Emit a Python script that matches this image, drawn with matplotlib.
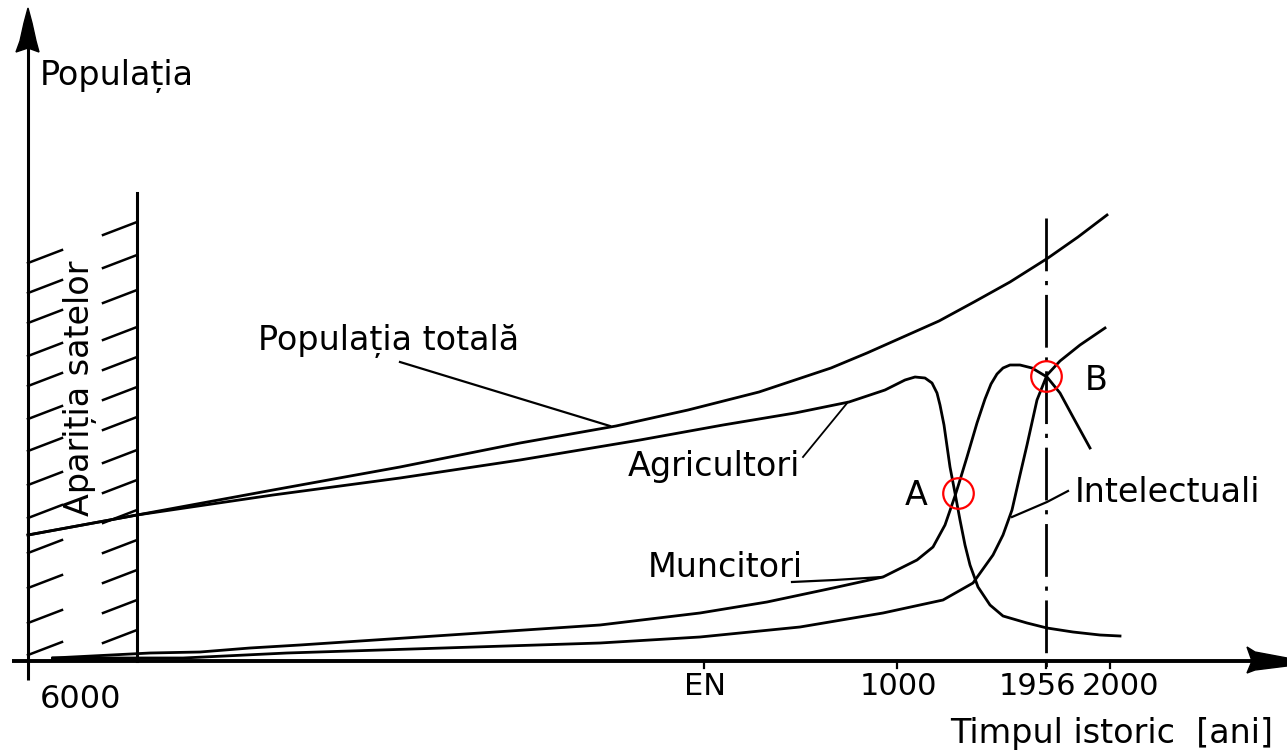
import matplotlib
matplotlib.use("Agg")
import matplotlib.pyplot as plt
from matplotlib.patches import Polygon

plt.rcParams['font.family'] = ['DejaVu Sans']
plt.rcParams['lines.scale_dashes'] = False

# schematic values: x = historic time position, y = population level (relative units)
total_x = [0, 109, 245, 372, 492, 588, 660, 731, 803, 839, 875, 911, 946, 982,
           1020, 1050, 1079]
total_y = [126, 146, 171, 194, 218, 235, 251, 269, 293, 308, 324, 340, 359, 379,
           403, 424, 446]

agri_x = [0, 109, 245, 372, 492, 612, 695, 767, 821, 857, 867, 877, 887, 897, 904,
          909, 912, 916, 922, 927, 932, 937, 942, 950, 962, 975, 999, 1019, 1045,
          1072, 1092]
agri_y = [126, 146, 166, 183, 201, 221, 236, 248, 259, 271, 276, 281, 284, 283, 278,
          268, 256, 236, 194, 168, 141, 116, 96, 74, 56, 45, 38, 33, 29,
          26, 25]

munc_x = [25, 122, 172, 222, 272, 572, 672, 739, 805, 855, 889, 905, 917, 927, 932,
          939, 949, 957, 963, 969, 975, 982, 992, 1004, 1019, 1032, 1045, 1062]
munc_y = [3, 8, 9, 13, 16, 36, 48, 59, 73, 84, 101, 114, 136, 165, 181,
          204, 238, 262, 277, 287, 293, 296, 296, 293, 284, 268, 244, 213]

intel_x = [25, 155, 259, 572, 672, 772, 855, 915, 945, 965, 975, 984, 992, 999,
           1009, 1019, 1032, 1052, 1077]
intel_y = [3, 3, 8, 18, 24, 34, 48, 61, 78, 106, 126, 151, 186, 216,
           261, 286, 300, 316, 333]

# "Apariția satelor" band (hatch levels)
band_x = 109
band_top = 468
hatch_left = [411, 381, 351, 318, 288, 255, 223, 189, 156, 121, 86, 51, 19]
hatch_right = [439, 406, 371, 334, 304, 274, 244, 211, 181, 151, 121, 91, 61, 31]

year_1956 = 1018
tick_pos = [676, 869, 1018, 1082]
tick_labels = ['EN', '1000', '1956', '2000']
tick_label_x = [677, 870, 1009, 1092]

point_A = (930, 168)
point_B = (1018, 285)

fig = plt.figure(figsize=(12.87, 7.52), dpi=100)
ax = fig.add_axes([0, 0, 1, 1])
ax.set_xlim(-28, 1259)
ax.set_ylim(-91, 661)
ax.axis('off')

k = 'black'
# axes with arrows
ax.plot([0, 0], [-19, 615], color=k, lw=2.2, solid_capstyle='butt')
ax.plot([-16, 1225], [0, 0], color=k, lw=2.8, solid_capstyle='butt')
ax.add_patch(Polygon([(0, 653), (4, 638), (8, 620), (11, 609), (0, 613),
                      (-12, 609), (-8, 620), (-4, 638)], closed=True, color=k))
ax.add_patch(Polygon([(1219, 14), (1227, 9), (1259, 3), (1259, -5), (1227, -9),
                      (1219, -12), (1224, 0)], closed=True, color=k))

# ticks
for t in tick_pos:
    ax.plot([t, t], [0, -7], color=k, lw=1.6)

# village band
ax.plot([band_x, band_x], [0, band_top], color=k, lw=2.2)
for h in hatch_left:
    ax.plot([0, 34], [h - 13, h], color=k, lw=1.8)
for h in hatch_right:
    ax.plot([75, 109], [h - 13, h], color=k, lw=1.8)

# 1956 line
ax.plot([year_1956, year_1956], [443, -7], color=k, lw=2.0,
        dashes=(38, 7, 3, 7))

# curves
lw = 2.0
ax.plot(total_x, total_y, color=k, lw=lw)
ax.plot(agri_x, agri_y, color=k, lw=lw)
ax.plot(munc_x, munc_y, color=k, lw=lw)
ax.plot(intel_x, intel_y, color=k, lw=lw)
ax.plot([25, 109], [2, 2], color=k, lw=3.5)

# leader lines
ax.plot([372, 582], [299, 235], color=k, lw=1.6)
ax.plot([775, 820], [204, 259], color=k, lw=1.3)
ax.plot([764, 807, 854], [79, 81, 84], color=k, lw=1.6)
ax.plot([984, 1019, 1040], [144, 159, 170], color=k, lw=1.6)

# red circles
for p in (point_A, point_B):
    ax.plot(p[0], p[1], 'o', ms=22, mfc='none', mec='red', mew=1.6)

fs = 24
ax.text(12, 576, 'Populația', fontsize=fs, va='baseline')
ax.text(230, 311, 'Populația totală', fontsize=fs, va='baseline')
ax.text(600, 185, 'Agricultori', fontsize=fs, va='baseline')
ax.text(620, 84, 'Muncitori', fontsize=fs, va='baseline')
ax.text(1047, 159, 'Intelectuali', fontsize=fs, va='baseline')
ax.text(877, 156, 'A', fontsize=fs, va='baseline')
ax.text(1057, 271, 'B', fontsize=fs, va='baseline')
ax.text(52, 273, 'Apariția satelor', fontsize=fs, rotation=90,
        ha='center', va='center')
ax.text(53, -47, '6000', fontsize=23, ha='center', va='baseline')
for x, lab in zip(tick_label_x, tick_labels):
    ax.text(x, -34, lab, fontsize=22, ha='center', va='baseline')
ax.text(922, -82, 'Timpul istoric  [ani]', fontsize=fs, va='baseline')

fig.savefig('out.png', dpi=100)
